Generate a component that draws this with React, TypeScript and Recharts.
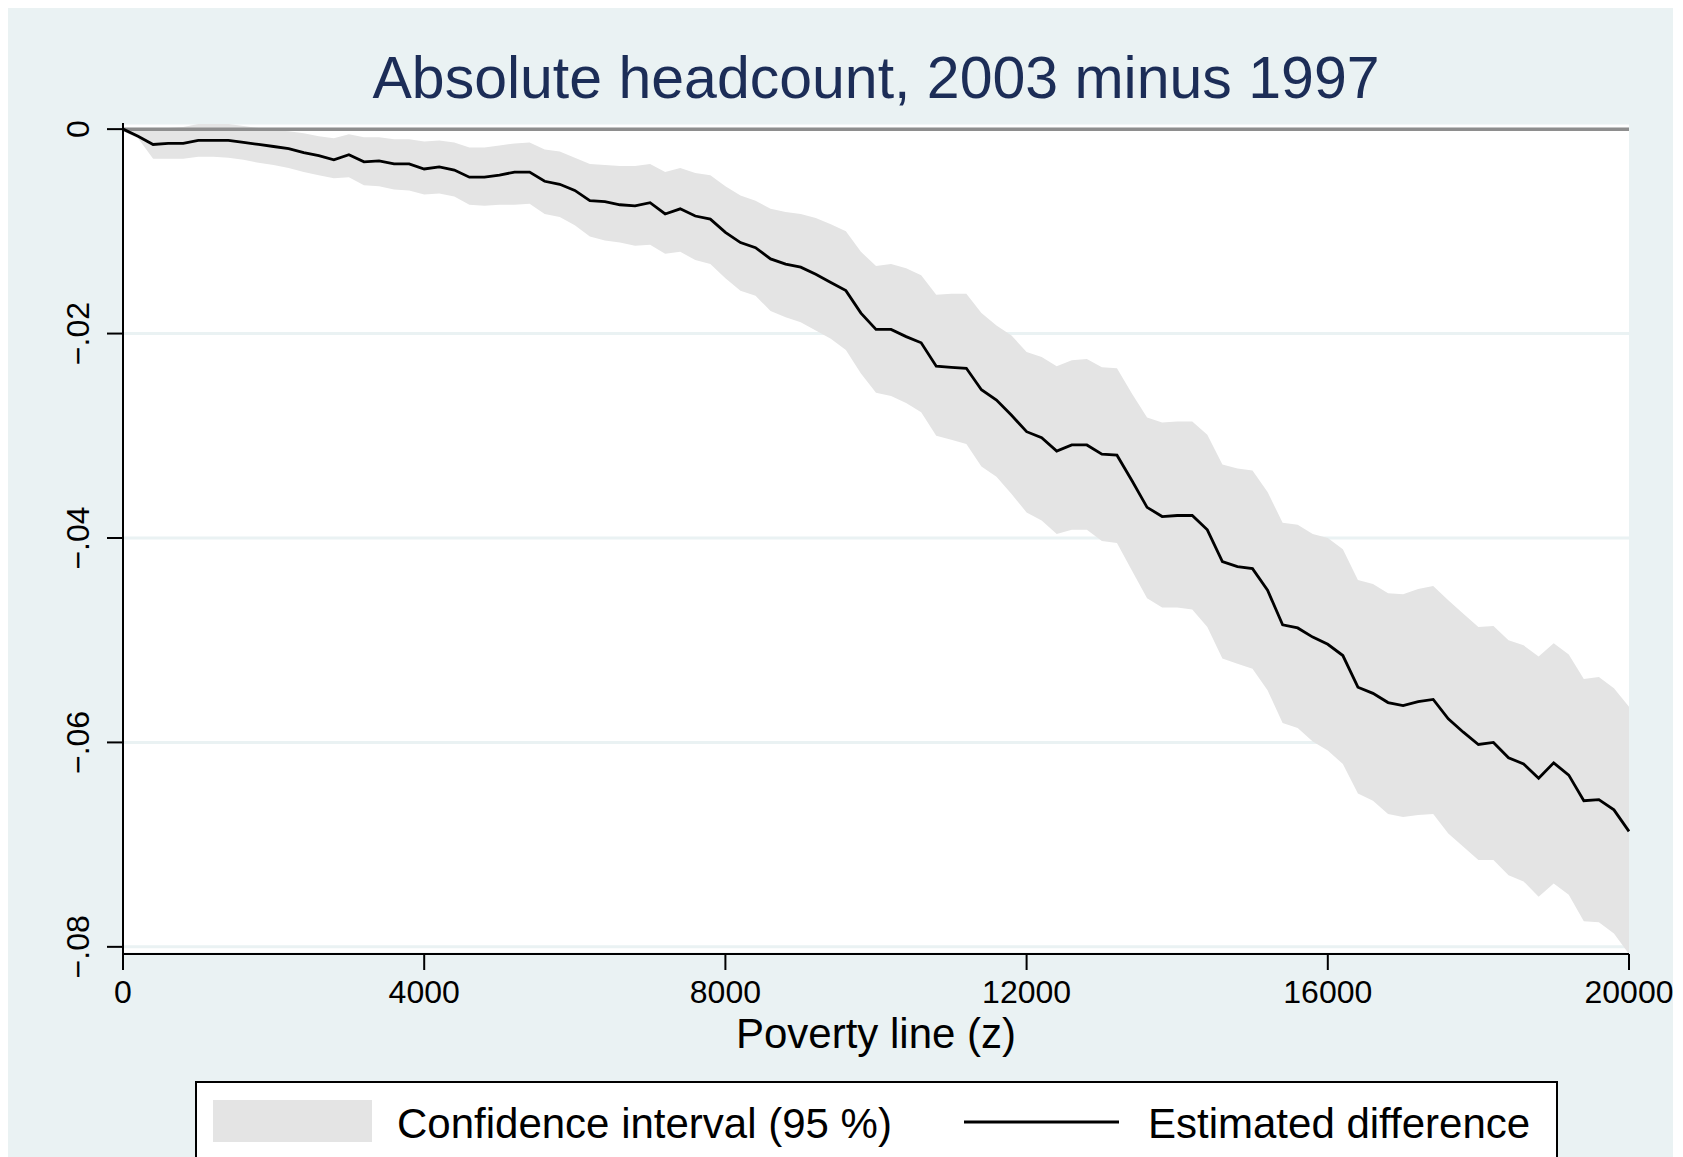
import {
  Area,
  CartesianGrid,
  ComposedChart,
  Line,
  ReferenceLine,
  XAxis,
  YAxis
} from "recharts";

// poverty line z, every 200 up to 20000
const povertyLine = [
  0, 200, 400, 600, 800, 1000, 1200, 1400, 1600, 1800,
  2000, 2200, 2400, 2600, 2800, 3000, 3200, 3400, 3600, 3800,
  4000, 4200, 4400, 4600, 4800, 5000, 5200, 5400, 5600, 5800,
  6000, 6200, 6400, 6600, 6800, 7000, 7200, 7400, 7600, 7800,
  8000, 8200, 8400, 8600, 8800, 9000, 9200, 9400, 9600, 9800,
  10000, 10200, 10400, 10600, 10800, 11000, 11200, 11400, 11600, 11800,
  12000, 12200, 12400, 12600, 12800, 13000, 13200, 13400, 13600, 13800,
  14000, 14200, 14400, 14600, 14800, 15000, 15200, 15400, 15600, 15800,
  16000, 16200, 16400, 16600, 16800, 17000, 17200, 17400, 17600, 17800,
  18000, 18200, 18400, 18600, 18800, 19000, 19200, 19400, 19600, 19800,
  20000
];

const estimate = [
  0, -0.0007, -0.0015, -0.0014, -0.0014, -0.0011, -0.0011, -0.0011, -0.0013, -0.0015,
  -0.0017, -0.0019, -0.0023, -0.0026, -0.003, -0.0025, -0.0032, -0.0031, -0.0034, -0.0034,
  -0.0039, -0.0037, -0.004, -0.0047, -0.0047, -0.0045, -0.0042, -0.0042, -0.0051, -0.0054,
  -0.006, -0.007, -0.0071, -0.0074, -0.0075, -0.0072, -0.0083, -0.0078, -0.0085, -0.0088,
  -0.0101, -0.0111, -0.0116, -0.0127, -0.0132, -0.0135, -0.0142, -0.015, -0.0158, -0.018,
  -0.0196, -0.0196, -0.0203, -0.0209, -0.0232, -0.0233, -0.0234, -0.0255, -0.0265, -0.028,
  -0.0296, -0.0302, -0.0315, -0.0309, -0.0309, -0.0318, -0.0319, -0.0344, -0.037, -0.0379,
  -0.0378, -0.0378, -0.0392, -0.0423, -0.0428, -0.043, -0.0451, -0.0485, -0.0488, -0.0497,
  -0.0504, -0.0515, -0.0546, -0.0552, -0.0561, -0.0564, -0.056, -0.0558, -0.0577, -0.059,
  -0.0602, -0.06, -0.0615, -0.0621, -0.0635, -0.062, -0.0632, -0.0657, -0.0656, -0.0666,
  -0.0687
];

const upper = [
  0, -0.0001, 0, 0.0001, 0.0002, 0.0005, 0.0005, 0.0005, 0.0003, 0.0001,
  -0.0001, -0.0002, -0.0004, -0.0007, -0.0009, -0.0005, -0.0008, -0.0008, -0.001, -0.001,
  -0.0012, -0.0011, -0.0013, -0.0018, -0.0018, -0.0016, -0.0014, -0.0013, -0.002, -0.0022,
  -0.0028, -0.0034, -0.0035, -0.0036, -0.0036, -0.0034, -0.0042, -0.0038, -0.0043, -0.0045,
  -0.0056, -0.0065, -0.007, -0.0078, -0.0081, -0.0083, -0.0087, -0.0093, -0.01, -0.012,
  -0.0134, -0.0132, -0.0136, -0.0143, -0.0162, -0.0161, -0.0161, -0.018, -0.0192, -0.0202,
  -0.0218, -0.0223, -0.0232, -0.0226, -0.0225, -0.0233, -0.0234, -0.0259, -0.0282, -0.0287,
  -0.0286, -0.0286, -0.0299, -0.0328, -0.0332, -0.0334, -0.0355, -0.0385, -0.0387, -0.0396,
  -0.04, -0.0411, -0.0441, -0.0445, -0.0454, -0.0455, -0.045, -0.0447, -0.0461, -0.0474,
  -0.0487, -0.0486, -0.05, -0.0505, -0.0516, -0.0503, -0.0514, -0.0538, -0.0536, -0.0547,
  -0.0565
];

const lower = [
  -0.0002, -0.0009, -0.0029, -0.0029, -0.0029, -0.0027, -0.0027, -0.0028, -0.003, -0.0033,
  -0.0035, -0.0038, -0.0042, -0.0045, -0.0048, -0.0047, -0.0055, -0.0056, -0.0059, -0.006,
  -0.0064, -0.0063, -0.0066, -0.0074, -0.0075, -0.0074, -0.0074, -0.0073, -0.0083, -0.0086,
  -0.0094, -0.0105, -0.0109, -0.0111, -0.0114, -0.0113, -0.0122, -0.012, -0.0128, -0.0132,
  -0.0146, -0.0158, -0.0163, -0.0178, -0.0184, -0.0189, -0.0197, -0.0205, -0.0216, -0.0239,
  -0.0258, -0.0261, -0.0268, -0.0277, -0.03, -0.0304, -0.0308, -0.033, -0.034, -0.0357,
  -0.0375, -0.0383, -0.0396, -0.0392, -0.0392, -0.0403, -0.0405, -0.0432, -0.0459, -0.0468,
  -0.0468, -0.047, -0.0487, -0.0518, -0.0523, -0.0528, -0.0549, -0.0581, -0.0586, -0.0599,
  -0.0608, -0.0621, -0.065, -0.0657, -0.067, -0.0673, -0.0671, -0.067, -0.0689, -0.0702,
  -0.0715, -0.0715, -0.073, -0.0736, -0.0751, -0.0738, -0.0749, -0.0775, -0.0776, -0.0787,
  -0.0807
];

const xTicks = [0, 4000, 8000, 12000, 16000, 20000];
const yTicks = [0, -0.02, -0.04, -0.06, -0.08];

const title = "Absolute headcount, 2003 minus 1997";
const xTitle = "Poverty line (z)";
const bandLabel = "Confidence interval (95 %)";
const lineLabel = "Estimated difference";

const data = povertyLine.map((z, i) => ({
  z,
  diff: estimate[i],
  band: [lower[i], upper[i]]
}));

const FONT = '"Liberation Sans", Arial, Helvetica, sans-serif';
const BG = "#EAF2F3";
const W = 1665;
const H = 1150;

const formatY = (v: number) => (v === 0 ? "0" : "\u2212" + Math.abs(v).toFixed(2).slice(1));

const XTick = ({ x, y, payload }: any) => (
  <text x={x} y={y + 31} textAnchor="middle" fontSize={32} fontFamily={FONT} fill="#000">
    {payload.value}
  </text>
);

const YTick = ({ x, y, payload }: any) => {
  const bx = x - 16;
  return (
    <text
      x={bx}
      y={y}
      transform={`rotate(-90, ${bx}, ${y})`}
      textAnchor="middle"
      fontSize={32}
      fontFamily={FONT}
      fill="#000"
    >
      {formatY(payload.value)}
    </text>
  );
};

export default function App() {
  return (
    <div style={{ position: "relative", width: W, height: H, background: BG, overflow: "hidden" }}>
      <ComposedChart width={W} height={H} data={data} margin={{ top: 115, right: 44, bottom: 0, left: 0 }}>
        <CartesianGrid vertical={false} stroke={BG} strokeWidth={3} fill="#FFFFFF" fillOpacity={1} />
        <XAxis
          type="number"
          dataKey="z"
          domain={[0, 20000]}
          ticks={xTicks}
          height={204}
          tickSize={16}
          tick={<XTick />}
          axisLine={{ stroke: "#000", strokeWidth: 2 }}
          tickLine={{ stroke: "#000", strokeWidth: 2 }}
        />
        <YAxis
          type="number"
          domain={[-0.0807, 0.0006]}
          allowDataOverflow
          ticks={yTicks}
          width={115}
          tickSize={16}
          tick={<YTick />}
          axisLine={{ stroke: "#000", strokeWidth: 2 }}
          tickLine={{ stroke: "#000", strokeWidth: 2 }}
        />
        <Area
          type="linear"
          dataKey="band"
          name={bandLabel}
          fill="#E4E4E4"
          fillOpacity={1}
          stroke="none"
          isAnimationActive={false}
        />
        <ReferenceLine y={0} stroke="#8E8E8E" strokeWidth={3.5} />
        <Line
          type="linear"
          dataKey="diff"
          name={lineLabel}
          stroke="#000"
          strokeWidth={2.8}
          dot={false}
          isAnimationActive={false}
        />
      </ComposedChart>
      <svg
        width={W}
        height={H}
        style={{ position: "absolute", left: 0, top: 0, pointerEvents: "none" }}
        fontFamily={FONT}
      >
        <text x={868} y={90} textAnchor="middle" fontSize={59} fill="#1C2D57">
          {title}
        </text>
        <text x={868} y={1040} textAnchor="middle" fontSize={42} fill="#000">
          {xTitle}
        </text>
        <rect x={188} y={1074} width={1361} height={100} fill="#FFFFFF" stroke="#000" strokeWidth={2} />
        <rect x={205} y={1092} width={159} height={42} fill="#E4E4E4" />
        <text x={389} y={1130} fontSize={42} fill="#000">
          {bandLabel}
        </text>
        <line x1={956} x2={1111} y1={1114} y2={1114} stroke="#000" strokeWidth={2.8} />
        <text x={1140} y={1130} fontSize={42} fill="#000">
          {lineLabel}
        </text>
      </svg>
    </div>
  );
}
